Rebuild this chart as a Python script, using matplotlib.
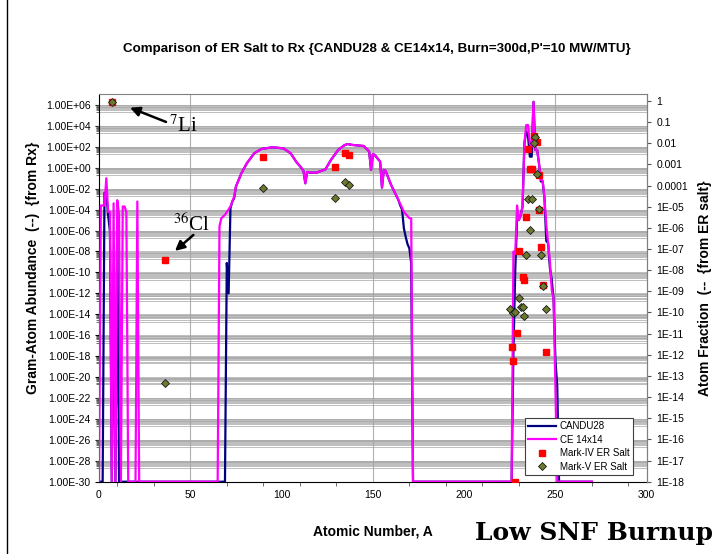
import numpy as np
import matplotlib
matplotlib.use("Agg")
import matplotlib.pyplot as plt
from matplotlib.ticker import FixedLocator, FuncFormatter, NullFormatter, NullLocator
from matplotlib.lines import Line2D

plt.rcParams['font.family'] = ['Liberation Sans', 'DejaVu Sans']

# --- Reactor inventories (gram-atoms, 1e-30 = nothing, sits on the floor) ---
# light elements, A = 0..22
light_A = list(range(23))
light_ce = [1e-30, 2.5e-4, 2.5e-4, 2.5e-4, 1e-1, 6e-5, 6e-5, 1e-30, 4e-4, 1e-30,
            8e-4, 3e-5, 1e-30, 2e-4, 2e-4, 6e-5, 1e-30, 1e-30, 1e-30, 1e-30,
            1e-30, 6e-4, 1e-30]
light_candu = [1e-30, 1e-30, 1e-30, 4e-3, 4e-3, 3e-5, 8e-7, 1e-30, 1e-11, 1e-30,
               1.6e-5, 1e-30, 1e-30, 1e-30, 1e-30, 1e-30, 1e-30, 1e-30, 1e-30, 1e-30,
               1e-30, 1e-30, 1e-30]

# fission product hump (both reactors follow the same envelope here)
fp_A = [75, 78, 81, 85, 89, 95, 101, 105, 108, 111, 112, 113, 114, 116, 119, 124,
        127, 131, 134, 136, 139, 145, 148, 149, 150, 151, 154, 155, 156, 157, 160, 164]
fp_val = [1.6e-2, 0.3, 2.7, 24, 63, 91, 72, 24, 3.8, 0.9, 0.5, 0.033, 0.4, 0.34, 0.34, 0.7,
          5.5, 50, 129, 186, 151, 120, 35, 0.63, 20, 17, 3.8, 0.0126, 0.63, 0.5, 0.023, 8.3e-4]

ce_fp_start_A = [65, 66, 67, 69, 72, 74]
ce_fp_start = [1e-30, 2.5e-6, 1.5e-5, 3.2e-5, 2e-4, 1.7e-3]
ce_fp_end_A = [167, 170, 171, 172, 226]
ce_fp_end = [6.3e-5, 1.5e-5, 1.5e-5, 1e-30, 1e-30]

candu_fp_start_A = [69, 70, 71, 72, 73, 74]
candu_fp_start = [1e-30, 8e-10, 1e-12, 1.3e-4, 6e-4, 1.2e-3]
candu_fp_end_A = [165, 166, 167, 168, 169, 170, 171, 172, 226]
candu_fp_end = [2.5e-4, 1e-4, 1.6e-6, 2.5e-7, 5e-8, 2e-8, 8e-10, 1e-30, 1e-30]

# actinides, A = 227..252 and 270
act_A = list(range(227, 253)) + [270]
act_ce = [1e-8, 6e-9, 2.5e-4, 1e-5, 3e-5, 2e-4, 200, 1.2e4, 1.2e4, 200, 100, 2e6, 50,
          50, 2.7, 0.068, 0.063, 1.3e-3, 3.2e-6, 6.3e-8, 1e-9, 2e-12, 2.5e-13, 1.3e-21,
          1e-30, 1e-30, 1e-30]
act_candu = [4e-18, 1.6e-10, 1.3e-5, 1e-5, 3e-5, 2e-4, 200, 3e3, 1e3, 11.5, 11.5, 2e6, 50,
             50, 2.7, 0.05, 0.05, 1.3e-3, 1e-7, 6.3e-8, 2.5e-10, 2e-11, 2.5e-13, 4e-19,
             1.3e-21, 1e-30, 1e-30]

# --- ER salt atom fractions (right axis) ---
mk4_A = [7, 36, 90, 129, 135, 137, 238, 240, 235, 236, 237, 241, 241, 234, 242, 230,
         232, 233, 243, 229, 226, 227, 245, 228]
mk4_frac = [0.93, 3e-8, 2.3e-3, 7.4e-4, 3.4e-3, 2.8e-3, 0.022, 0.012, 5.3e-3, 5.9e-4,
            5.9e-4, 3.2e-4, 7e-6, 3.2e-6, 1.3e-7, 8.3e-8, 4.9e-9, 3.5e-9, 2e-9, 1.1e-11,
            2.4e-12, 5.2e-13, 1.3e-12, 1e-18]
mk5_A = [7, 36, 90, 129, 135, 137, 239, 238, 240, 235, 237, 241, 236, 234, 242, 243,
         230, 245, 225, 227, 228, 231, 232, 233]
mk5_frac = [0.93, 4.5e-14, 7.4e-5, 2.5e-5, 1.5e-4, 1.07e-4, 0.019, 0.01, 3.5e-4, 2.3e-5,
            2.3e-5, 7.8e-6, 7.9e-7, 5.2e-8, 5e-8, 1.8e-9, 4.7e-10, 1.4e-10, 1.4e-10,
            9e-11, 1.1e-10, 1.8e-10, 1.8e-10, 6.8e-11]

ce_A = light_A + ce_fp_start_A + fp_A + ce_fp_end_A + act_A
ce_val = light_ce + ce_fp_start + fp_val + ce_fp_end + act_ce
candu_A = light_A + candu_fp_start_A + fp_A + candu_fp_end_A + act_A
candu_val = light_candu + candu_fp_start + fp_val + candu_fp_end + act_candu

# --- Figure ---
W, H = 718, 554
fig = plt.figure(figsize=(W / 100, H / 100), dpi=100)
ax = fig.add_axes([99 / W, 72.3 / H, 547.7 / W, 387.7 / H])
ax.set_yscale("log")
ax.set_xlim(0, 300)
ax.set_ylim(1e-30, 10 ** 7.05)

# gridlines: clusters just under every labelled decade
major_y = [10.0 ** e for e in range(-30, 7, 2)]
minor_y = [m * 10.0 ** (e - 1) for e in range(-28, 7, 2) for m in range(2, 10)]
ax.yaxis.set_major_locator(FixedLocator(major_y))
ax.yaxis.set_minor_locator(FixedLocator(minor_y))
ax.yaxis.set_major_formatter(FuncFormatter(lambda v, p: f"{v:.2E}"))
ax.yaxis.set_minor_formatter(NullFormatter())
ax.grid(True, which="both", axis="y", color="#a4a4a4", lw=0.5, zorder=0)
for xv in (50, 150, 250):
    ax.axvline(xv, color="#b0b0b0", lw=0.8, zorder=0)

ax.xaxis.set_major_locator(FixedLocator(range(0, 301, 50)))
ax.xaxis.set_minor_locator(FixedLocator(range(10, 300, 20)))
ax.tick_params(axis="x", which="major", length=0, pad=6, labelsize=7.5)
ax.tick_params(axis="x", which="minor", length=3, direction="out", color="#555555")
ax.tick_params(axis="y", which="major", length=3, direction="out", pad=3, labelsize=7.5)
ax.tick_params(axis="y", which="minor", length=2.5, direction="out", color="#555555")
ax.set_axisbelow(True)

for side in ("top", "right"):
    ax.spines[side].set_color("#808080")

ln1, = ax.plot(candu_A, candu_val, color="#000080", lw=1.6, label="CANDU28", zorder=3)
ln2, = ax.plot(ce_A, ce_val, color="#FF00FF", lw=1.6, label="CE 14x14", zorder=4)

# right axis: atom fraction in the ER salt
ax2 = ax.twinx()
ax2.set_yscale("log")
ax2.set_ylim(1e-18, 10 ** 0.33)
ax2.yaxis.set_major_locator(FixedLocator([10.0 ** e for e in range(-18, 1)]))
ax2.yaxis.set_minor_locator(NullLocator())


def frac_fmt(v, p):
    e = int(round(np.log10(v)))
    if e >= -4:
        return f"{10.0 ** e:.{-e}f}" if e < 0 else "1"
    return f"1E-{-e:02d}"


ax2.yaxis.set_major_formatter(FuncFormatter(frac_fmt))
ax2.tick_params(axis="y", length=3, pad=4, labelsize=7.5, color="#555555")
for side in ("top", "left", "bottom"):
    ax2.spines[side].set_visible(False)
ax2.spines["right"].set_color("#808080")

sc1, = ax2.plot(mk4_A, mk4_frac, ls="none", marker="s", ms=5, mfc="#FF0000",
                mec="#FF0000", label="Mark-IV ER Salt", zorder=5)
sc2, = ax2.plot(mk5_A, mk5_frac, ls="none", marker="D", ms=4.2, mfc="#6B7B2E",
                mec="#1a1a1a", mew=0.6, label="Mark-V ER Salt", zorder=6)

# isotope call-outs
ax.annotate("", xy=(17, 10 ** 5.74), xytext=(36.7, 10 ** 4.38),
            arrowprops=dict(arrowstyle="-|>", color="black", lw=1.8,
                            mutation_scale=14, shrinkA=0, shrinkB=0), zorder=7)
ax.text(38.3, 1e4, r"$^{7}$Li", fontsize=15, family="Liberation Serif",
        math_fontfamily="stix", ha="left", va="center", zorder=7)
ax.annotate("", xy=(41.6, 10 ** -7.95), xytext=(51.7, 10 ** -6.42),
            arrowprops=dict(arrowstyle="-|>", color="black", lw=1.8,
                            mutation_scale=14, shrinkA=0, shrinkB=0), zorder=7)
ax.text(40.5, 10 ** -5.47, r"$^{36}$Cl", fontsize=15, family="Liberation Serif",
        math_fontfamily="stix", ha="left", va="center", zorder=7)

# titles and labels
fig.text(377 / W, 1 - 49 / H,
         "Comparison of ER Salt to Rx {CANDU28 & CE14x14, Burn=300d,P'=10 MW/MTU}",
         ha="center", va="center", fontsize=9.6, fontweight="bold")
fig.text(33 / W, 1 - 268 / H, "Gram-Atom Abundance  (--)  {from Rx}", rotation=90,
         ha="center", va="center", fontsize=10, fontweight="bold")
fig.text(705 / W, 1 - 288 / H, "Atom Fraction  (--  {from ER salt}", rotation=90,
         ha="center", va="center", fontsize=10, fontweight="bold")
fig.text(373 / W, 1 - 531 / H, "Atomic Number, A", ha="center", va="center",
         fontsize=10, fontweight="bold")
fig.text(594 / W, 1 - 533 / H, "Low SNF Burnup", ha="center", va="center",
         fontsize=18, fontweight="bold", family="DejaVu Serif")

leg = fig.legend(handles=[ln1, ln2, sc1, sc2], loc="upper left",
                 bbox_to_anchor=(525 / W, 1 - 418 / H), fontsize=7, frameon=True,
                 fancybox=False, framealpha=1, edgecolor="#404040", handlelength=2.8,
                 labelspacing=0.35, borderpad=0.35, handletextpad=0.4, borderaxespad=0)
leg.get_frame().set_linewidth(0.8)

# chart-area edge on the left
fig.add_artist(Line2D([7 / W, 7 / W], [0, 1], transform=fig.transFigure,
                      color="black", lw=1))

fig.savefig("out.png", dpi=100)
